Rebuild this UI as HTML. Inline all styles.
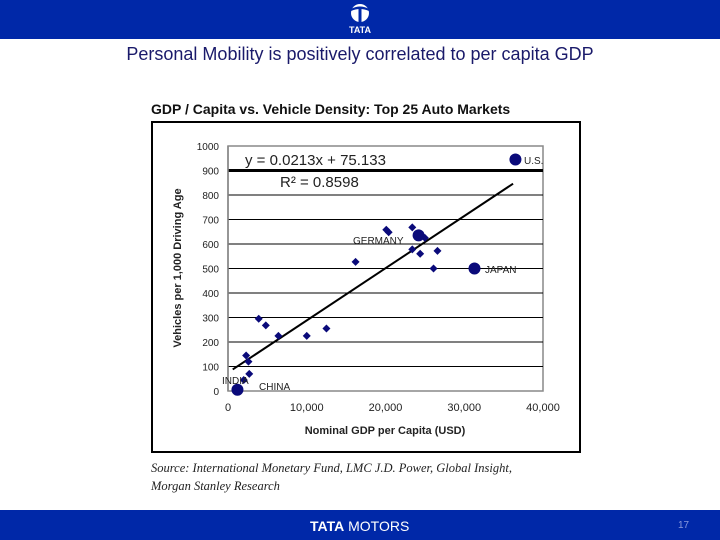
<!DOCTYPE html>
<html><head><meta charset="utf-8"><style>
body{margin:0;width:720px;height:540px;overflow:hidden;background:#fff;font-family:"Liberation Sans",sans-serif;position:relative}
.bar{position:absolute;left:0;width:720px;background:#0028a8}
</style></head><body>
<div class="bar" style="top:0;height:39px">
 <svg width="720" height="39">
  <circle cx="360" cy="13" r="9" fill="#fff"/>
  <path d="M351 9 Q360 4 369 9 L369 11 Q360 7 351 11Z" fill="#0028a8"/>
  <rect x="358.5" y="9" width="3" height="13" fill="#0028a8"/>
  <text x="360" y="33" fill="#fff" font-size="9" font-weight="bold" text-anchor="middle" font-family="Liberation Sans">TATA</text>
 </svg>
</div>
<div style="position:absolute;top:44px;left:0;width:720px;text-align:center;font-size:18px;color:#1a1a6a">Personal Mobility is positively correlated to per capita GDP</div>
<svg id="c" width="720" height="540" style="position:absolute;left:0;top:0"></svg>
<div style="position:absolute;left:151px;top:459px;font-family:'Liberation Serif',serif;font-style:italic;font-size:12.5px;line-height:18px;color:#222">Source: International Monetary Fund, LMC J.D. Power, Global Insight,<br>Morgan Stanley Research</div>
<div class="bar" style="top:510px;height:30px">
 <div style="position:absolute;left:310px;top:8px;color:#fff;font-size:14px"><b>TATA</b> MOTORS</div>
 <div style="position:absolute;left:678px;top:10px;color:#8899dd;font-size:10px">17</div>
</div>
<script>
const xVals=[1.2,2.0,2.3,2.6,2.7,3.9,4.8,6.4,10.0,12.5,16.2,20.1,20.4,23.4,23.4,24.4,25.0,26.1,26.6,24.2,31.3,36.5];
const yVals=[5,45,145,120,70,295,268,225,225,255,527,658,648,668,578,560,625,500,572,635,500,945];
const big=[1,0,0,0,0,0,0,0,0,0,0,0,0,0,0,0,0,0,0,1,1,1];
const xTicks=[0,10000,20000,30000,40000];
const yTicks=[0,100,200,300,400,500,600,700,800,900,1000];
const slope=0.0213, intercept=75.133;
const NS='http://www.w3.org/2000/svg',svg=document.getElementById('c');
const X=v=>228+v/40000*315, Y=v=>391-v/1000*245;
function el(t,a,txt){const e=document.createElementNS(NS,t);for(const k in a)e.setAttribute(k,a[k]);if(txt!==undefined)e.textContent=txt;svg.appendChild(e);return e;}
let e;
e=el('rect',{x:152,y:122,width:428,height:330,fill:'#fff',stroke:'#000','stroke-width':2});


e=el('text',{x:151,y:114,'font-size':14,'font-weight':'bold',fill:'#111'},'GDP / Capita vs. Vehicle Density: Top 25 Auto Markets');


e=el('rect',{x:228,y:146,width:315,height:245,fill:'#fff',stroke:'#888','stroke-width':1.5});


yTicks.forEach(t=>{
 if(t>0&&t<1000){e=el('line',{x1:228,x2:543,y1:Y(t),y2:Y(t),stroke:'#000','stroke-width':t==900?3:1});
 
 }
 e=el('text',{x:219,y:Y(t)+4,'font-size':10,'text-anchor':'end',fill:'#222'},t);
 
 
});
xTicks.forEach(t=>{
 e=el('text',{x:X(t),y:411,'font-size':11,'text-anchor':'middle',fill:'#222'},t.toLocaleString('en-US'));
 
 
});
e=el('line',{x1:228,x2:228,y1:146,y2:391,stroke:'#888','stroke-width':1.5});
e=el('text',{x:385,y:434,'font-size':11,'font-weight':'bold','text-anchor':'middle',fill:'#222'},'Nominal GDP per Capita (USD)');


e=el('text',{x:0,y:0,'font-size':11,'font-weight':'bold','text-anchor':'middle',fill:'#222',transform:'translate(181,268) rotate(-90)'},'Vehicles per 1,000 Driving Age');


e=el('line',{x1:X(600),y1:Y(slope*600+intercept),x2:X(36200),y2:Y(slope*36200+intercept),stroke:'#000','stroke-width':2});


xVals.forEach((x,i)=>{
 const cx=X(x*1000),cy=Y(yVals[i]);
 if(big[i]){e=el('circle',{cx,cy,r:6,fill:'#0a0a7a'});}
 else{e=el('polygon',{points:`${cx},${cy-4} ${cx+4},${cy} ${cx},${cy+4} ${cx-4},${cy}`,fill:'#0a0a7a'});}
 
 
});
[['U.S.',524,164],['GERMANY',353,244],['JAPAN',485,273],['INDIA',222,384],['CHINA',259,390]].forEach(l=>{
 e=el('text',{x:l[1],y:l[2],'font-size':10,fill:'#222'},l[0]);
 
 
});
e=el('text',{x:245,y:165,'font-size':15,fill:'#222'},'y = 0.0213x + 75.133');


e=el('text',{x:280,y:187,'font-size':15,fill:'#222'},'R² = 0.8598');


</script>
</body></html>
